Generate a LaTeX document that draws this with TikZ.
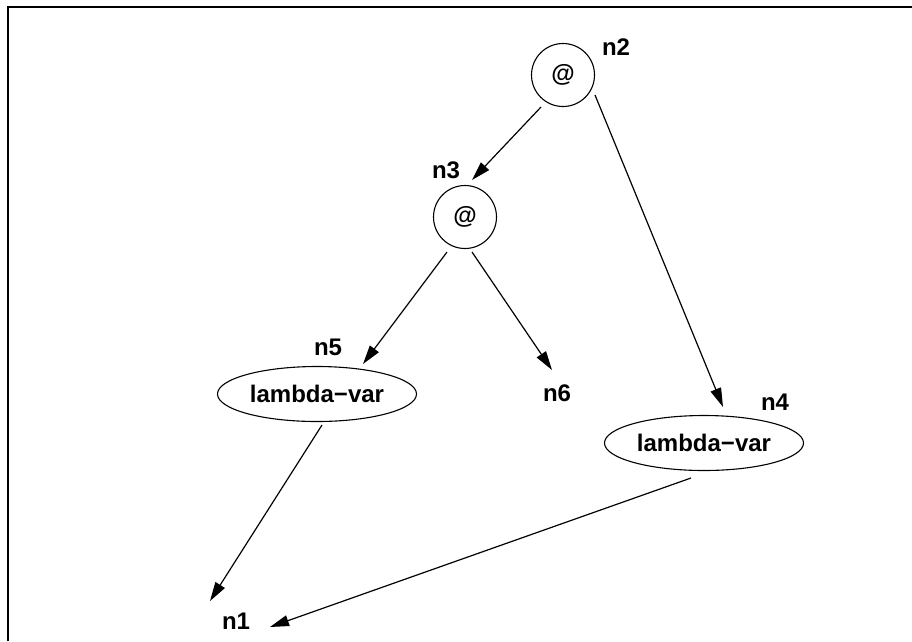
\documentclass[tikz,border=0pt]{standalone}
\usepackage{fontspec}
\setmainfont{Liberation Sans}
\usetikzlibrary{shapes.geometric,arrows.meta,calc}
\begin{document}
\begin{tikzpicture}[x=1pt,y=-1pt,
  every node/.style={font=\bfseries\fontsize{24}{26}\selectfont},
  circ/.style={circle,draw,line width=1.1pt,minimum size=63pt,inner sep=0pt},
  ell/.style={ellipse,draw,line width=1.1pt,minimum width=199pt,minimum height=55pt,inner sep=0pt},
  lbl/.style={inner sep=2pt},
  arr/.style={line width=1.2pt,-{Triangle[length=19pt,width=11pt]}}]
\useasboundingbox (0,0) rectangle (912,641);
\draw[line width=1.3pt] (8,641) -- (8,7) -- (912,7);
\node[circ] (n2) at (563,75) {@};
\node[lbl] (l2) at (616,47) {n2};
\node[circ] (n3) at (465,217) {@};
\node[lbl] (l3) at (446,170) {n3};
\node[ell] (n5) at (317,394) {lambda−var};
\node[lbl] (l5) at (328,347) {n5};
\node[lbl] (n6) at (557,393) {n6};
\node[ell] (n4) at (704,443) {lambda−var};
\node[lbl] (l4) at (775,402) {n4};
\node[lbl] (n1) at (236,621) {n1};
\draw[arr] ($(n2.center)+(-22,32)$) -- ($(n3.center)+(7,-37)$);
\draw[arr] ($(n2.center)+(32,20)$) -- ($(n4.center)+(19,-36)$);
\draw[arr] ($(n3.center)+(-18,35)$) -- ($(n5.center)+(46,-30)$);
\draw[arr] ($(n3.center)+(7,35)$) -- ($(n6.center)+(-5,-23)$);
\draw[arr] ($(n5.center)+(5,31)$) -- ($(n1.center)+(-26,-20)$);
\draw[arr] ($(n4.center)+(-13,35)$) -- ($(n1.center)+(34,6)$);
\end{tikzpicture}
\end{document}
